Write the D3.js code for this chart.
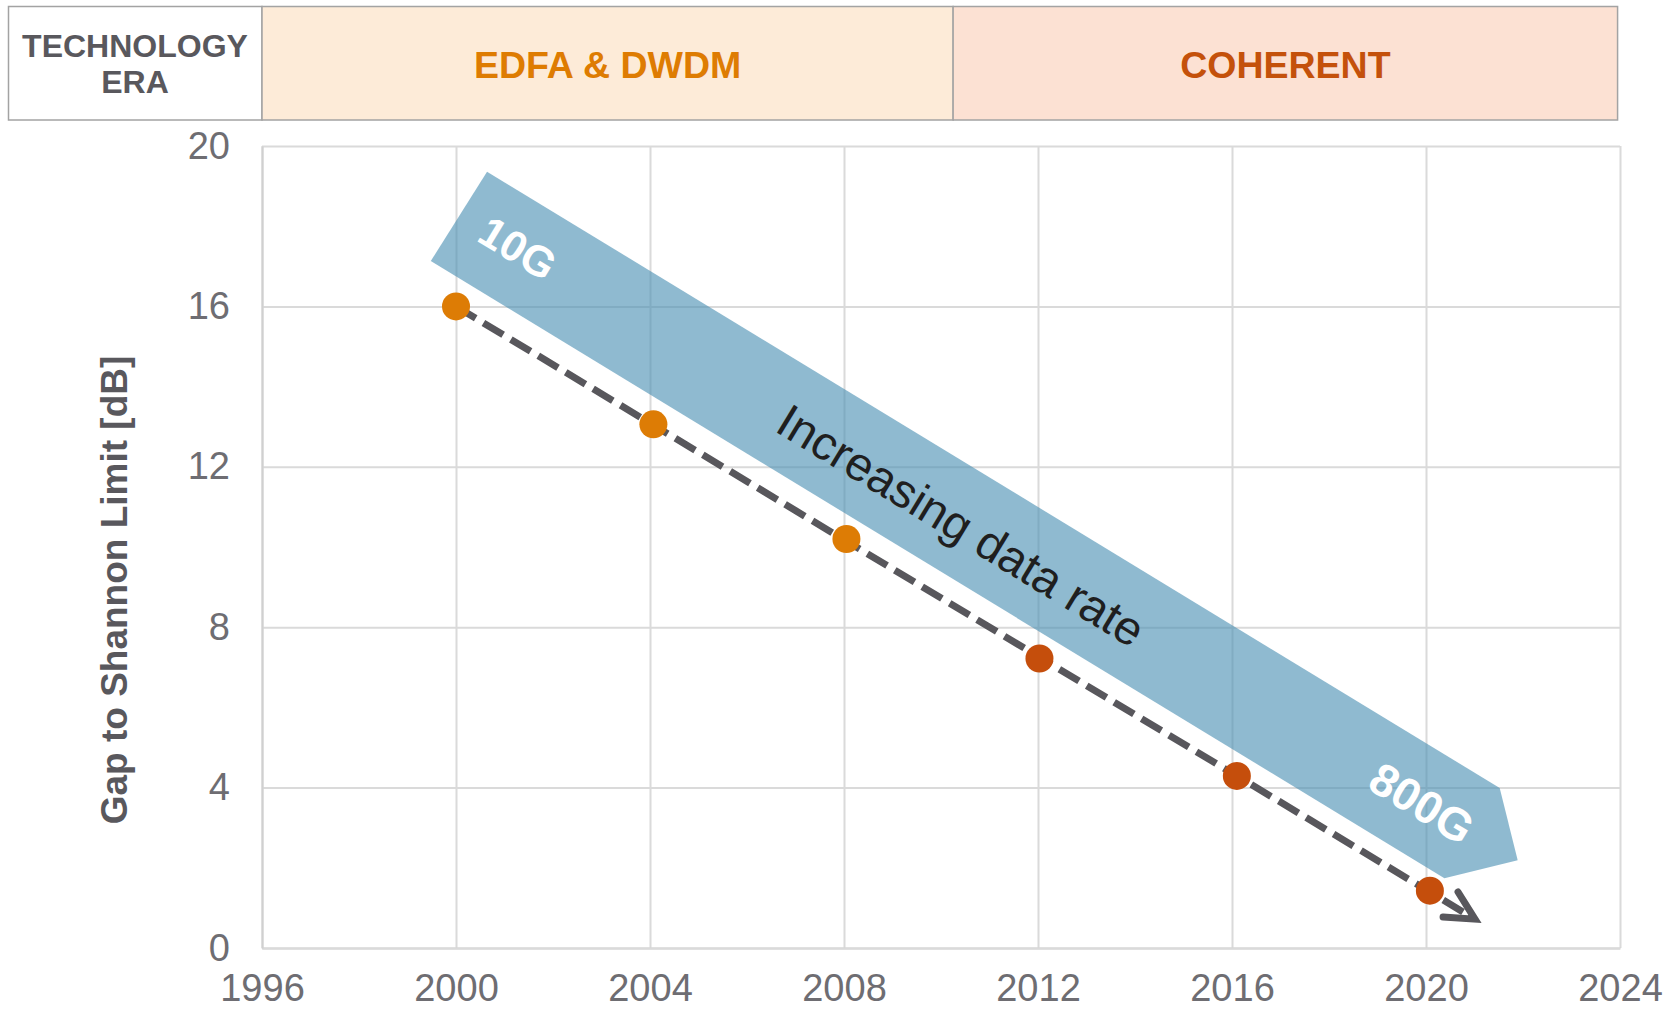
<!DOCTYPE html>
<html>
<head>
<meta charset="utf-8">
<script src="https://cdn.jsdelivr.net/npm/d3@7"></script>
<style>
  html, body { margin: 0; padding: 0; background: #ffffff; }
  svg { display: block; }
  text { font-family: "Liberation Sans", Arial, Helvetica, sans-serif; }
</style>
</head>
<body>
<svg id="chart" width="1663" height="1010"></svg>
<script>
// ---- data ----
const years = [2000, 2004.07, 2008.05, 2012.03, 2016.1, 2020.08];
const gapDb = [16.0, 13.06, 10.2, 7.22, 4.29, 1.43];
const pointEra = ["EDFA & DWDM", "EDFA & DWDM", "EDFA & DWDM", "COHERENT", "COHERENT", "COHERENT"];

const xTicks = [1996, 2000, 2004, 2008, 2012, 2016, 2020, 2024];
const yTicks = [0, 4, 8, 12, 16, 20];

const eraNames = ["EDFA & DWDM", "COHERENT"];
const eraStart = [1996, 2010.25];
const eraEnd = [2010.25, 2023.95];
const headerTitle = ["TECHNOLOGY", "ERA"];

// trend arrow (dashed) endpoints
const trendYears = [2000, 2021.01];
const trendDb = [16.0, 0.72];

// "Increasing data rate" band outline
const bandYears = [1999.48, 2000.64, 2021.52, 2021.89, 2020.38];
const bandDb = [17.13, 19.36, 3.99, 2.19, 1.74];

// annotations
const annoText = ["10G", "Increasing data rate", "800G"];
const annoYear = [2001.28, 2010.42, 2019.92];
const annoDb = [17.46, 10.55, 3.62];

const yTitle = "Gap to Shannon Limit [dB]";

(function () {
// ---- styles ----
const eraFill = { "EDFA & DWDM": "#fdebd8", "COHERENT": "#fce1d3" };
const eraColor = { "EDFA & DWDM": "#de7c02", "COHERENT": "#c4510b" };
const pointColor = { "EDFA & DWDM": "#dd7c05", "COHERENT": "#c54e0c" };
const annoStyle = [
  { size: 43, weight: "bold", fill: "#ffffff" },
  { size: 47.5, weight: "normal", fill: "#1f1f1f" },
  { size: 46, weight: "bold", fill: "#ffffff" }
];

const svg = d3.select("#chart");
const pL = 262, pR = 1620, pT = 146, pB = 948;

const x = d3.scaleLinear().domain([1996, 2024]).range([pL, pR]);
const y = d3.scaleLinear().domain([0, 20]).range([pB, pT]);

// ---- header table ----
const hTop = 6.5, hBot = 120;
svg.append("rect")
  .attr("x", 8.5).attr("y", hTop)
  .attr("width", pL - 8.5).attr("height", hBot - hTop)
  .attr("fill", "#ffffff").attr("stroke", "#a3a3a3").attr("stroke-width", 1.5);
svg.append("text")
  .attr("x", 135).attr("text-anchor", "middle")
  .attr("fill", "#59585d").attr("font-weight", "bold").attr("font-size", 32)
  .selectAll("tspan").data(headerTitle).join("tspan")
  .attr("x", 135).attr("y", (d, i) => 57 + i * 36).text(d => d);

eraNames.forEach((name, i) => {
  const x0 = x(eraStart[i]), x1 = x(eraEnd[i]);
  svg.append("rect")
    .attr("x", x0).attr("y", hTop)
    .attr("width", x1 - x0).attr("height", hBot - hTop)
    .attr("fill", eraFill[name]).attr("stroke", "#a3a3a3").attr("stroke-width", 1.5);
  svg.append("text")
    .attr("x", (x0 + x1) / 2).attr("y", 78)
    .attr("text-anchor", "middle")
    .attr("font-weight", "bold").attr("font-size", 37.5)
    .attr("fill", eraColor[name]).text(name);
});

// ---- axes & grid ----
const gx = svg.append("g").attr("transform", `translate(0,${pB})`)
  .call(d3.axisBottom(x).tickValues(xTicks).tickFormat(d3.format("d"))
    .tickSize(-(pB - pT)).tickSizeOuter(0).tickPadding(26));
const gy = svg.append("g").attr("transform", `translate(${pL},0)`)
  .call(d3.axisLeft(y).tickValues(yTicks)
    .tickSize(-(pR - pL)).tickSizeOuter(0).tickPadding(32));

[gx, gy].forEach(g => {
  g.select(".domain").attr("stroke", "#d0d0d0").attr("stroke-width", 2);
  g.selectAll(".tick line").attr("stroke", "#dadada").attr("stroke-width", 2);
  g.selectAll(".tick text")
    .attr("fill", "#6e6d72").attr("font-size", 38)
    .attr("font-family", "'Liberation Sans', Arial, sans-serif");
});
gx.select(".domain").raise();
gy.select(".domain").raise();

// y title
svg.append("text")
  .attr("transform", "translate(127,590) rotate(-90)")
  .attr("text-anchor", "middle")
  .attr("font-weight", "bold").attr("font-size", 37)
  .attr("fill", "#59585d").text(yTitle);

// ---- band ----
const bandPts = bandYears.map((yr, i) => [x(yr), y(bandDb[i])]);
svg.append("path")
  .attr("d", d3.line()(bandPts) + "Z")
  .attr("fill", "#4a8fb3").attr("fill-opacity", 0.62);

const ang = Math.atan2(bandPts[2][1] - bandPts[1][1], bandPts[2][0] - bandPts[1][0]) * 180 / Math.PI;

annoText.forEach((t, i) => {
  const st = annoStyle[i];
  svg.append("text")
    .attr("transform", `translate(${x(annoYear[i])},${y(annoDb[i])}) rotate(${ang})`)
    .attr("text-anchor", "middle").attr("dy", "0.36em")
    .attr("font-size", st.size).attr("font-weight", st.weight)
    .attr("fill", st.fill).text(t);
});

// ---- trend arrow ----
const tp = trendYears.map((yr, i) => [x(yr), y(trendDb[i])]);
const dirA = Math.atan2(tp[1][1] - tp[0][1], tp[1][0] - tp[0][0]);
const tip = tp[1];
const lineEnd = [tip[0] - 5 * Math.cos(dirA), tip[1] - 5 * Math.sin(dirA)];
svg.append("path")
  .attr("d", d3.line()([tp[0], lineEnd]))
  .attr("fill", "none").attr("stroke", "#58575c").attr("stroke-width", 7)
  .attr("stroke-dasharray", "23,9");
const armLen = 32, half = 27 * Math.PI / 180;
const arm1 = [tip[0] - armLen * Math.cos(dirA - half), tip[1] - armLen * Math.sin(dirA - half)];
const arm2 = [tip[0] - armLen * Math.cos(dirA + half), tip[1] - armLen * Math.sin(dirA + half)];
svg.append("path")
  .attr("d", d3.line()([arm1, tip, arm2]))
  .attr("fill", "none").attr("stroke", "#58575c").attr("stroke-width", 7)
  .attr("stroke-linejoin", "miter").attr("stroke-linecap", "round");

// ---- points ----
svg.append("g").selectAll("circle")
  .data(years.map((yr, i) => ({ yr, v: gapDb[i], era: pointEra[i] })))
  .join("circle")
  .attr("cx", d => x(d.yr)).attr("cy", d => y(d.v))
  .attr("r", 14)
  .attr("fill", d => pointColor[d.era]);
})();
</script>
</body>
</html>
